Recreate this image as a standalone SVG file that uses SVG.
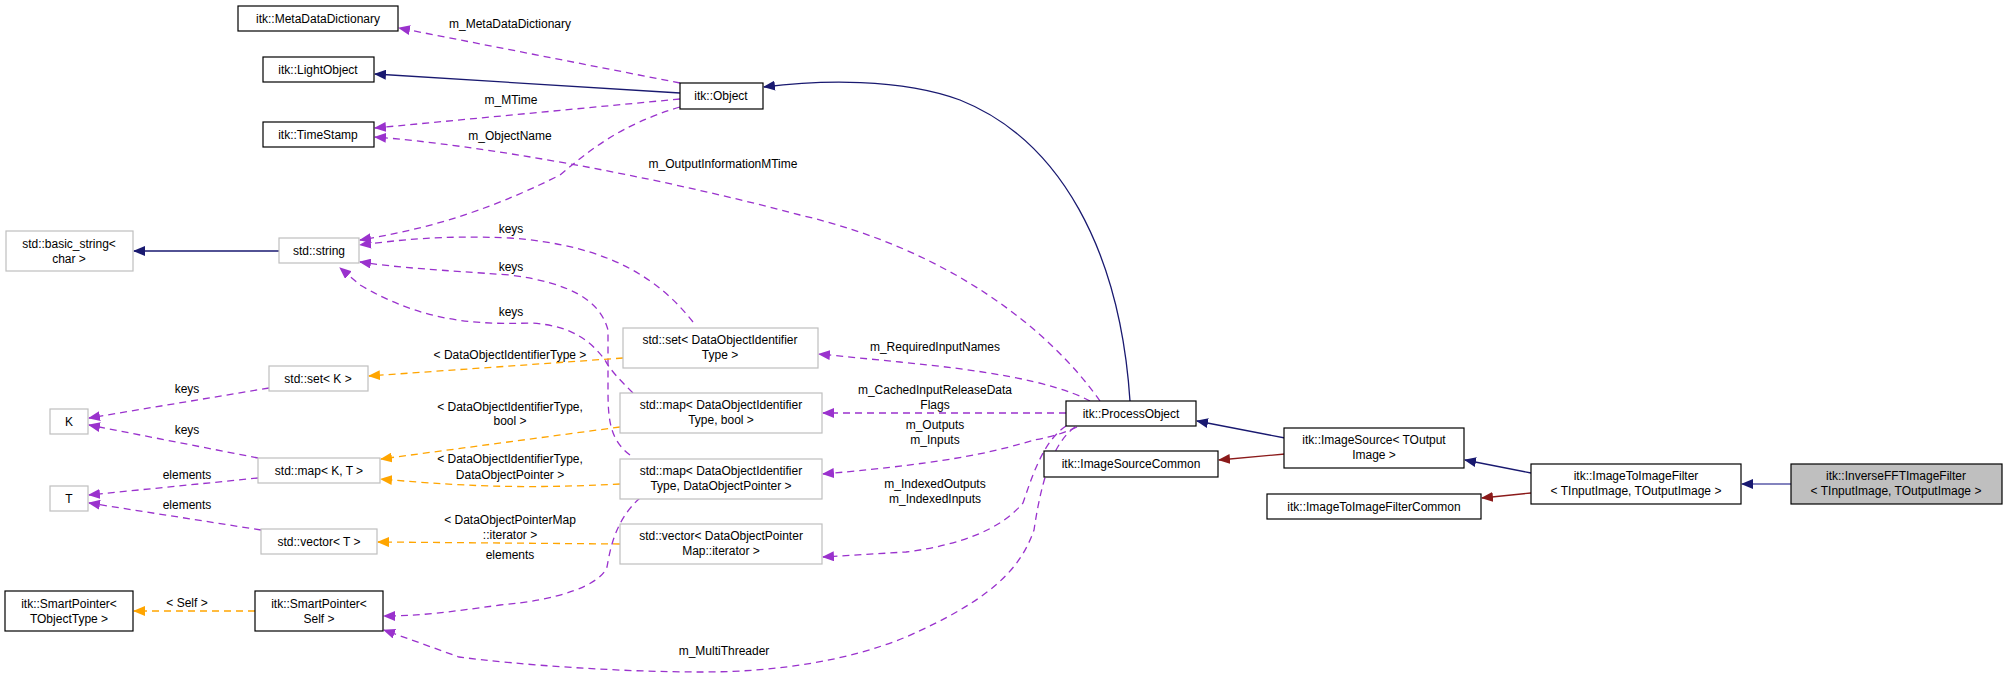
<svg xmlns="http://www.w3.org/2000/svg" width="2007" height="678" viewBox="0 0 2007 678">
<style>
text{font-family:"Liberation Sans",Arial,sans-serif;font-size:12px;fill:#000;text-anchor:middle}
.nb rect{fill:#fff;stroke:#000;stroke-width:1.2}
.ng rect{fill:#fff;stroke:#bfbfbf;stroke-width:1.2}
.cur rect{fill:#bfbfbf;stroke:#000;stroke-width:1.2}
.e{fill:none;stroke-width:1.3}
.nv{stroke:#191970;marker-end:url(#an)}
.rd{stroke:#8b1a1a;marker-end:url(#ar)}
.pu{stroke:#9a32cd;stroke-dasharray:7,5;marker-end:url(#ap)}
.or{stroke:#ffa500;stroke-dasharray:7,5;marker-end:url(#ao)}
</style>
<defs>
<marker id="an" markerWidth="12" markerHeight="10" refX="11" refY="5" orient="auto" markerUnits="userSpaceOnUse"><path d="M0,0L12,5L0,10z" fill="#191970"/></marker>
<marker id="ar" markerWidth="12" markerHeight="10" refX="11" refY="5" orient="auto" markerUnits="userSpaceOnUse"><path d="M0,0L12,5L0,10z" fill="#8b1a1a"/></marker>
<marker id="ap" markerWidth="12" markerHeight="10" refX="11" refY="5" orient="auto" markerUnits="userSpaceOnUse"><path d="M0,0L12,5L0,10z" fill="#9a32cd"/></marker>
<marker id="ao" markerWidth="12" markerHeight="10" refX="11" refY="5" orient="auto" markerUnits="userSpaceOnUse"><path d="M0,0L12,5L0,10z" fill="#ffa500"/></marker>
</defs>
<rect width="2007" height="678" fill="#fff"/>
<g id="edges">
<path class="e nv" d="M680,93L375,74"/>
<path class="e nv" d="M1130,401C1120,250 1060,140 960,100C900,78 820,80 764,87"/>
<path class="e nv" d="M1285,438L1197,421"/>
<path class="e rd" d="M1285,454L1219,460"/>
<path class="e nv" d="M1531,473L1465,460"/>
<path class="e rd" d="M1531,493L1482,498"/>
<path class="e" style="stroke:#5a5aa8;marker-end:url(#an)" d="M1791,484L1742,484"/>
<path class="e nv" d="M279,251L134,251"/>
<path class="e or" d="M255,611L134,611"/>
<path class="e pu" d="M680,83L399,28"/>
<path class="e pu" d="M680,99L375,128"/>
<path class="e pu" d="M1100,401C1050,330 950,250 800,215C650,175 480,145 375,137"/>
<path class="e pu" d="M680,107C620,125 590,150 560,175C480,215 420,230 360,240"/>
<path class="e pu" d="M693,322C660,280 610,245 510,238C440,235 400,240 360,245"/>
<path class="e pu" d="M630,455C610,440 608,420 608,390L608,330C600,300 570,283 510,275C440,270 400,268 360,262"/>
<path class="e pu" d="M633,393C620,380 610,370 605,360C590,340 570,325 530,323C470,325 420,320 360,285L340,268"/>
<path class="e pu" d="M640,498C615,520 610,550 607,567C600,585 560,600 500,605C450,612 420,616 384,616"/>
<path class="e pu" d="M1090,401C1050,380 980,370 900,362L819,354"/>
<path class="e pu" d="M1066,413L823,413"/>
<path class="e pu" d="M1077,427C1060,435 1045,438 1034,440C1000,450 960,462 823,474"/>
<path class="e pu" d="M1066,426C1045,440 1034,470 1023,503C1000,530 960,545 906,552L823,557"/>
<path class="e pu" d="M1075,427C1050,445 1040,490 1034,530C1020,570 990,600 906,637C850,660 780,672 702,672C620,672 520,665 459,657L384,630"/>
<path class="e or" d="M623,358L369,376"/>
<path class="e or" d="M620,427L381,459"/>
<path class="e or" d="M620,484C540,488 480,488 381,479"/>
<path class="e or" d="M620,544L378,542"/>
<path class="e pu" d="M269,388L89,418"/>
<path class="e pu" d="M258,458L89,425"/>
<path class="e pu" d="M258,478L89,495"/>
<path class="e pu" d="M261,530L89,503"/>
</g>
<g id="labels">
<text x="510" y="28">m_MetaDataDictionary</text>
<text x="511" y="104">m_MTime</text>
<text x="510" y="140">m_ObjectName</text>
<text x="723" y="168">m_OutputInformationMTime</text>
<text x="511" y="233">keys</text>
<text x="511" y="271">keys</text>
<text x="511" y="316">keys</text>
<text x="510" y="359">&lt; DataObjectIdentifierType &gt;</text>
<text x="510" y="411">&lt; DataObjectIdentifierType,</text>
<text x="510" y="425">bool &gt;</text>
<text x="510" y="463">&lt; DataObjectIdentifierType,</text>
<text x="510" y="479">DataObjectPointer &gt;</text>
<text x="510" y="524">&lt; DataObjectPointerMap</text>
<text x="510" y="539">::iterator &gt;</text>
<text x="510" y="559">elements</text>
<text x="187" y="393">keys</text>
<text x="187" y="434">keys</text>
<text x="187" y="479">elements</text>
<text x="187" y="509">elements</text>
<text x="187" y="607">&lt; Self &gt;</text>
<text x="724" y="655">m_MultiThreader</text>
<text x="935" y="351">m_RequiredInputNames</text>
<text x="935" y="394">m_CachedInputReleaseData</text>
<text x="935" y="409">Flags</text>
<text x="935" y="429">m_Outputs</text>
<text x="935" y="444">m_Inputs</text>
<text x="935" y="488">m_IndexedOutputs</text>
<text x="935" y="503">m_IndexedInputs</text>
</g>
<g id="n1" class="nb"><rect x="238" y="6" width="160" height="25"/><text x="318" y="23">itk::MetaDataDictionary</text></g>
<g id="n2" class="nb"><rect x="263" y="57" width="111" height="25"/><text x="318" y="74">itk::LightObject</text></g>
<g id="n3" class="nb"><rect x="263" y="122" width="111" height="25"/><text x="318" y="139">itk::TimeStamp</text></g>
<g id="n4" class="nb"><rect x="680" y="83" width="83" height="26"/><text x="721" y="100">itk::Object</text></g>
<g id="n5" class="ng"><rect x="6" y="231" width="127" height="40"/><text x="69" y="248">std::basic_string&lt;</text><text x="69" y="263">char &gt;</text></g>
<g id="n6" class="ng"><rect x="279" y="238" width="80" height="25"/><text x="319" y="255">std::string</text></g>
<g id="n7" class="ng"><rect x="269" y="366" width="99" height="25"/><text x="318" y="383">std::set&lt; K &gt;</text></g>
<g id="n8" class="ng"><rect x="50" y="409" width="38" height="25"/><text x="69" y="426">K</text></g>
<g id="n9" class="ng"><rect x="258" y="458" width="122" height="25"/><text x="319" y="475">std::map&lt; K, T &gt;</text></g>
<g id="n10" class="ng"><rect x="50" y="486" width="38" height="25"/><text x="69" y="503">T</text></g>
<g id="n11" class="ng"><rect x="261" y="529" width="116" height="25"/><text x="319" y="546">std::vector&lt; T &gt;</text></g>
<g id="n12" class="nb"><rect x="5" y="591" width="128" height="40"/><text x="69" y="608">itk::SmartPointer&lt;</text><text x="69" y="623">TObjectType &gt;</text></g>
<g id="n13" class="nb"><rect x="255" y="591" width="128" height="40"/><text x="319" y="608">itk::SmartPointer&lt;</text><text x="319" y="623">Self &gt;</text></g>
<g id="n14" class="ng"><rect x="623" y="328" width="195" height="40"/><text x="720" y="344">std::set&lt; DataObjectIdentifier</text><text x="720" y="359">Type &gt;</text></g>
<g id="n15" class="ng"><rect x="620" y="393" width="202" height="40"/><text x="721" y="409">std::map&lt; DataObjectIdentifier</text><text x="721" y="424">Type, bool &gt;</text></g>
<g id="n16" class="ng"><rect x="620" y="459" width="202" height="40"/><text x="721" y="475">std::map&lt; DataObjectIdentifier</text><text x="721" y="490">Type, DataObjectPointer &gt;</text></g>
<g id="n17" class="ng"><rect x="620" y="524" width="202" height="40"/><text x="721" y="540">std::vector&lt; DataObjectPointer</text><text x="721" y="555">Map::iterator &gt;</text></g>
<g id="n18" class="nb"><rect x="1066" y="401" width="130" height="25"/><text x="1131" y="418">itk::ProcessObject</text></g>
<g id="n19" class="nb"><rect x="1044" y="451" width="174" height="26"/><text x="1131" y="468">itk::ImageSourceCommon</text></g>
<g id="n20" class="nb"><rect x="1284" y="428" width="180" height="40"/><text x="1374" y="444">itk::ImageSource&lt; TOutput</text><text x="1374" y="459">Image &gt;</text></g>
<g id="n21" class="nb"><rect x="1267" y="494" width="214" height="25"/><text x="1374" y="511">itk::ImageToImageFilterCommon</text></g>
<g id="n22" class="nb"><rect x="1531" y="464" width="210" height="40"/><text x="1636" y="480">itk::ImageToImageFilter</text><text x="1636" y="495">&lt; TInputImage, TOutputImage &gt;</text></g>
<g id="n23" class="cur"><rect x="1791" y="464" width="211" height="40"/><text x="1896" y="480">itk::InverseFFTImageFilter</text><text x="1896" y="495">&lt; TInputImage, TOutputImage &gt;</text></g>
</svg>
